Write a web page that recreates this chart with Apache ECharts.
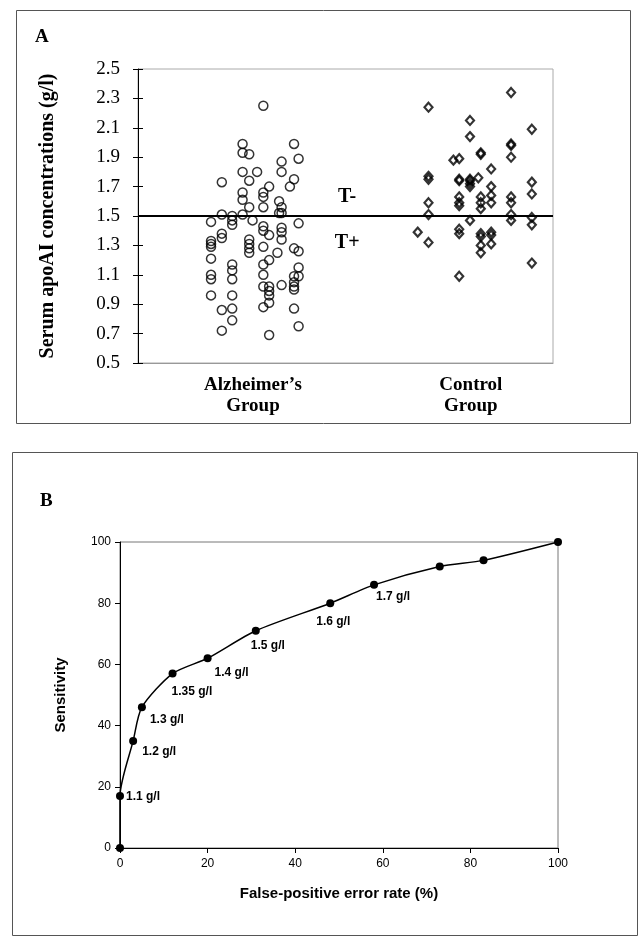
<!DOCTYPE html>
<html lang="en">

<head>
    <meta charset="UTF-8">
    <title>apoAI</title>
    <script type="text/javascript" src="https://cdn.jsdelivr.net/npm/echarts@6.0.0/dist/echarts.min.js"></script>
    <style>
        html, body { margin: 0; padding: 0; background: #fff; }
    </style>
</head>

<body>
    <div id="main" style="width: 640px; height: 942px;"></div>
    <script>
        // panel A: [jitter position, apoAI g/l]
        var alzheimer = [
            [30.2, 2.25], [25.2, 1.99], [37.6, 1.99], [25.2, 1.93], [26.8, 1.92], [38.7, 1.89],
            [34.6, 1.87], [25.2, 1.80], [28.7, 1.80], [34.6, 1.80], [20.2, 1.73], [26.8, 1.74],
            [37.6, 1.75], [31.6, 1.70], [36.6, 1.70], [25.2, 1.66], [30.2, 1.66], [30.2, 1.63],
            [25.2, 1.61], [34.0, 1.60], [26.8, 1.56], [30.2, 1.56], [34.6, 1.56], [20.2, 1.51],
            [22.7, 1.50], [25.2, 1.51], [34.0, 1.52], [34.6, 1.52], [22.7, 1.47], [17.6, 1.46],
            [22.7, 1.44], [27.6, 1.47], [38.7, 1.45], [30.2, 1.43], [30.2, 1.40], [31.6, 1.37],
            [34.6, 1.42], [34.6, 1.39], [34.6, 1.34], [20.2, 1.38], [20.2, 1.35], [17.6, 1.33],
            [17.6, 1.31], [17.6, 1.29], [26.8, 1.34], [26.8, 1.31], [26.8, 1.28], [26.8, 1.25],
            [30.2, 1.29], [33.6, 1.25], [37.6, 1.28], [38.7, 1.26], [17.6, 1.21], [31.6, 1.20],
            [30.2, 1.17], [22.7, 1.17], [22.7, 1.13], [22.7, 1.07], [38.7, 1.15], [38.7, 1.09],
            [37.6, 1.09], [37.6, 1.05], [37.6, 1.02], [37.6, 1.00], [30.2, 1.10], [17.6, 1.10],
            [17.6, 1.07], [30.2, 1.02], [31.6, 1.02], [31.6, 0.99], [31.6, 0.96], [31.6, 0.91],
            [34.6, 1.03], [17.6, 0.96], [22.7, 0.96], [30.2, 0.88], [22.7, 0.87], [37.6, 0.87],
            [20.2, 0.86], [22.7, 0.79], [38.7, 0.75], [20.2, 0.72], [31.6, 0.69]
        ];
        var control = [
            [89.9, 2.34], [70.0, 2.24], [80.0, 2.15], [94.9, 2.09], [80.0, 2.04], [89.9, 1.99],
            [89.9, 1.98], [82.6, 1.93], [82.6, 1.92], [89.9, 1.90], [76.0, 1.88], [77.4, 1.89],
            [85.1, 1.82], [70.0, 1.77], [70.0, 1.75], [77.4, 1.75], [77.4, 1.74], [80.0, 1.75],
            [80.0, 1.74], [80.0, 1.72], [82.0, 1.76], [80.0, 1.70], [94.9, 1.73], [85.1, 1.70],
            [94.9, 1.65], [85.1, 1.64], [85.1, 1.59], [77.4, 1.63], [77.4, 1.59], [77.4, 1.57],
            [82.6, 1.63], [82.6, 1.59], [82.6, 1.55], [89.9, 1.63], [89.9, 1.59], [70.0, 1.59],
            [70.0, 1.51], [89.9, 1.51], [89.9, 1.47], [94.9, 1.49], [94.9, 1.44], [80.0, 1.47],
            [67.4, 1.39], [70.0, 1.32], [77.4, 1.41], [77.4, 1.38], [82.6, 1.38], [82.6, 1.36],
            [85.1, 1.39], [85.1, 1.37], [85.1, 1.31], [82.6, 1.30], [82.6, 1.25], [94.9, 1.18],
            [77.4, 1.09]
        ];
        var groupNames = ['Alzheimer\u2019s\nGroup', 'Control\nGroup'];
        var groupCenters = [27.7, 80.2];
        var cutoff = 1.5;
        var tagNames = ['T-', 'T+'];
        var tagCoords = [[50.4, 1.63], [50.4, 1.316]];

        // panel B: ROC
        var falsePos = [0, 0, 3, 5, 12, 20, 31, 48, 58, 73, 83, 100];
        var sensitivity = [0, 17, 35, 46, 57, 62, 71, 80, 86, 92, 94, 100];
        var cutLabels = ['', '1.1 g/l', '1.2 g/l', '1.3 g/l', '1.35 g/l', '1.4 g/l', '1.5 g/l', '1.6 g/l', '1.7 g/l', '', '', ''];

        // where each cut-off label sits relative to its dot
        var labelOffsets = [[0, 0], [2, 1], [5, 11], [4, 12], [-5, 18], [3, 14], [-9, 15], [-18, 18], [-2, 12], [0, 0], [0, 0], [0, 0]];

        var serif = '"Liberation Serif", "DejaVu Serif", serif';
        var sans = '"Liberation Sans", Arial, sans-serif';

        var rocData = [];
        for (var i = 0; i < falsePos.length; i++) {
            var item = { value: [falsePos[i], sensitivity[i]] };
            if (cutLabels[i]) {
                item.label = {
                    show: true,
                    position: 'right',
                    distance: 0,
                    offset: labelOffsets[i],
                    formatter: cutLabels[i]
                };
            }
            rocData.push(item);
        }

        var myChart = echarts.init(document.getElementById('main'), null, { renderer: 'canvas' });

        myChart.setOption({
            backgroundColor: '#fff',
            animation: false,
            graphic: [
                { type: 'rect', shape: { x: 16.5, y: 10.5, width: 614, height: 413 }, style: { fill: 'none', stroke: '#555', lineWidth: 1 } },
                { type: 'rect', shape: { x: 12.5, y: 452.5, width: 625, height: 483 }, style: { fill: 'none', stroke: '#555', lineWidth: 1 } },
                { type: 'text', x: 35, y: 28, style: { text: 'A', font: 'bold 19px ' + serif, fill: '#000' } },
                { type: 'text', x: 40, y: 492, style: { text: 'B', font: 'bold 19px ' + serif, fill: '#000' } }
            ],
            grid: [
                { left: 138, top: 69, width: 415, height: 294, show: true, borderColor: '#aaa', borderWidth: 1 },
                { left: 120, top: 542, width: 438, height: 306, show: true, borderColor: '#777', borderWidth: 1 }
            ],
            xAxis: [
                {
                    gridIndex: 0, type: 'value', min: 0, max: 100,
                    axisLine: { show: true, lineStyle: { color: '#999' } },
                    axisTick: { show: false },
                    splitLine: { show: false },
                    axisLabel: {
                        customValues: groupCenters,
                        formatter: function (v) {
                            for (var k = 0; k < groupCenters.length; k++) {
                                if (Math.abs(v - groupCenters[k]) < 0.01) return groupNames[k];
                            }
                            return '';
                        },
                        margin: 12,
                        color: '#000',
                        fontFamily: serif,
                        fontWeight: 'bold',
                        fontSize: 19,
                        lineHeight: 21
                    }
                },
                {
                    gridIndex: 1, type: 'value', min: 0, max: 100, interval: 20,
                    name: 'False-positive error rate (%)',
                    nameLocation: 'middle', nameGap: 38,
                    nameTextStyle: { fontFamily: sans, fontWeight: 'bold', fontSize: 15, color: '#000' },
                    axisLine: { lineStyle: { color: '#000' } },
                    axisTick: { length: 5, lineStyle: { color: '#000' } },
                    splitLine: { show: false },
                    axisLabel: { color: '#000', fontFamily: sans, fontSize: 12, margin: 10 }
                }
            ],
            yAxis: [
                {
                    gridIndex: 0, type: 'value', min: 0.5, max: 2.5, interval: 0.2,
                    name: 'Serum apoAI concentrations (g/l)',
                    nameLocation: 'middle', nameGap: 80,
                    nameTextStyle: { fontFamily: serif, fontWeight: 'bold', fontSize: 20, color: '#000' },
                    axisLine: { show: true, lineStyle: { color: '#000' } },
                    axisTick: { show: true, length: 5, lineStyle: { color: '#000' } },
                    splitLine: { show: false },
                    axisLabel: {
                        color: '#000', fontFamily: serif, fontSize: 19, margin: 18,
                        formatter: function (v) { return v.toFixed(1); }
                    }
                },
                {
                    // inner half of the cross ticks
                    gridIndex: 0, type: 'value', min: 0.5, max: 2.5, interval: 0.2, position: 'left',
                    axisLine: { show: false },
                    axisTick: { show: true, inside: true, length: 5, lineStyle: { color: '#000' } },
                    axisLabel: { show: false },
                    splitLine: { show: false }
                },
                {
                    gridIndex: 1, type: 'value', min: 0, max: 100, interval: 20,
                    name: 'Sensitivity',
                    nameLocation: 'middle', nameGap: 52,
                    nameTextStyle: { fontFamily: sans, fontWeight: 'bold', fontSize: 15, color: '#000' },
                    axisLine: { show: true, lineStyle: { color: '#000' } },
                    axisTick: { show: true, length: 5, lineStyle: { color: '#000' } },
                    splitLine: { show: false },
                    axisLabel: { color: '#000', fontFamily: sans, fontSize: 12, margin: 9 }
                }
            ],
            series: [
                {
                    type: 'scatter',
                    xAxisIndex: 0, yAxisIndex: 0,
                    data: alzheimer,
                    symbol: 'circle',
                    symbolSize: 9,
                    itemStyle: { color: 'rgba(0,0,0,0)', borderColor: '#000', borderWidth: 1.5 },
                    markLine: {
                        silent: true,
                        symbol: ['none', 'none'],
                        label: { show: false },
                        lineStyle: { color: '#000', width: 2, type: 'solid' },
                        data: [{ yAxis: cutoff }]
                    },
                    markPoint: {
                        silent: true,
                        symbol: 'circle',
                        symbolSize: 1,
                        itemStyle: { color: 'rgba(0,0,0,0)' },
                        label: {
                            show: true, position: 'inside',
                            formatter: '{b}',
                            fontFamily: serif, fontWeight: 'bold', fontSize: 20, color: '#000'
                        },
                        data: tagNames.map(function (t, k) { return { name: t, coord: tagCoords[k] }; })
                    }
                },
                {
                    type: 'scatter',
                    xAxisIndex: 0, yAxisIndex: 0,
                    data: control,
                    symbol: 'diamond',
                    symbolSize: [8, 9],
                    itemStyle: { color: 'rgba(0,0,0,0)', borderColor: '#000', borderWidth: 2.2 }
                },
                {
                    type: 'line',
                    xAxisIndex: 1, yAxisIndex: 2,
                    data: rocData,
                    smooth: 0.25,
                    symbol: 'circle',
                    symbolSize: 8,
                    lineStyle: { color: '#000', width: 1.5 },
                    itemStyle: { color: '#000' },
                    label: {
                        color: '#000', fontFamily: sans, fontWeight: 'bold', fontSize: 12
                    }
                }
            ]
        });
    </script>
</body>

</html>
